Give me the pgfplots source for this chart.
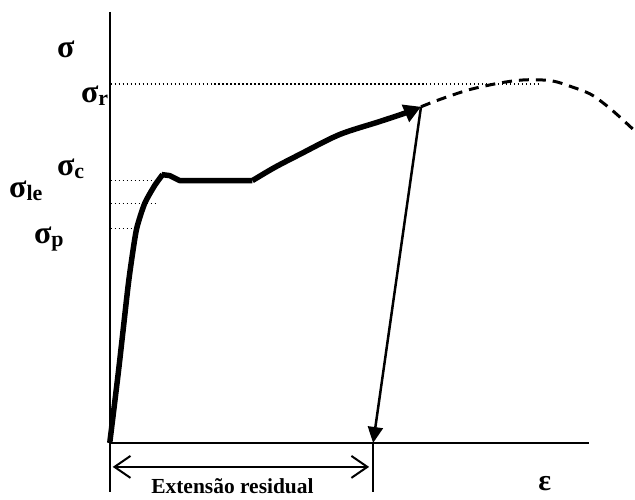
\documentclass[border=0pt]{standalone}
\usepackage{fontspec}
\setmainfont{Liberation Serif}
\usepackage{pgfplots}
\pgfplotsset{compat=1.18}
\usetikzlibrary{arrows.meta}
\newcommand{\sig}[1]{{\fontsize{32}{32}\selectfont σ}\raisebox{-3pt}{\fontsize{22}{22}\selectfont #1}}
\begin{document}
\begin{tikzpicture}
\begin{axis}[
  width=635pt, height=501pt, scale only axis,
  xmin=0, xmax=635, ymin=0, ymax=501, y dir=reverse,
  axis lines=none, clip=false,
  every axis plot/.append style={black},
  nodes={font=\bfseries, inner sep=0pt},
]
\path[draw=none] (axis cs:0,0) rectangle (axis cs:635,501);
% axes
\addplot[line width=2pt] coordinates {(110,12) (110,493)};
\addplot[line width=2pt] coordinates {(110,444) (590,444)};
\addplot[line width=2pt] coordinates {(374,444) (374,493)};
% residual extension double arrow
\addplot[line width=2pt, {Straight Barb[length=16pt,width=22pt,line width=2pt]}-{Straight Barb[length=16pt,width=22pt,line width=2pt]}] coordinates {(113,468) (370,468)};
% dotted reference lines
\addplot[line width=1.5pt, dash pattern=on 1.5pt off 2.5pt] coordinates {(111,84) (543,84)};
\addplot[line width=1.5pt, dash pattern=on 1.5pt off 2.5pt] coordinates {(111,181) (158,181)};
\addplot[line width=1.5pt, dash pattern=on 1.5pt off 2.5pt] coordinates {(111,204) (158,204)};
\addplot[line width=1.5pt, dash pattern=on 1.5pt off 2.5pt] coordinates {(111,229) (136,229)};
% stress-strain curve
\addplot[line width=5.5pt, smooth, tension=0.4] coordinates {(110,444) (119,370) (128,290) (132,260) (137,229) (145,204) (155,186) (163,175)};
\addplot[line width=5.5pt, line join=round] coordinates {(162,175) (170,176) (180,181) (253,181)};
\addplot[line width=5.5pt, smooth, tension=0.5, -{Triangle[length=17pt,width=18pt]}] coordinates {(253,181) (275,168) (300,155) (340,135) (380,122) (407,113) (422,107)};
% unloading line
\addplot[line width=2.5pt, -{Triangle[length=16pt,width=15pt]}] coordinates {(422,107) (374,444)};
% dashed continuation
\addplot[line width=3pt, dash pattern=on 10pt off 7pt, smooth, tension=0.5] coordinates {(422,107) (440,100) (470,90) (502,83) (527,80) (553,81) (573,87) (593,95) (613,110) (635,130)};
% labels
\node[anchor=base west] at (axis cs:57,58) {\fontsize{32}{32}\selectfont σ};
\node[anchor=base west] at (axis cs:81,103) {\sig{r}};
\node[anchor=base west] at (axis cs:57,176) {\sig{c}};
\node[anchor=base west] at (axis cs:9,198) {\sig{le}};
\node[anchor=base west] at (axis cs:34,244) {\sig{p}};
\node[anchor=base] at (axis cs:546,492) {\fontsize{30}{30}\selectfont ε};
\node[anchor=base] at (axis cs:233,495) {\fontsize{21.5}{21.5}\selectfont Extensão residual};
\end{axis}
\end{tikzpicture}
\end{document}
